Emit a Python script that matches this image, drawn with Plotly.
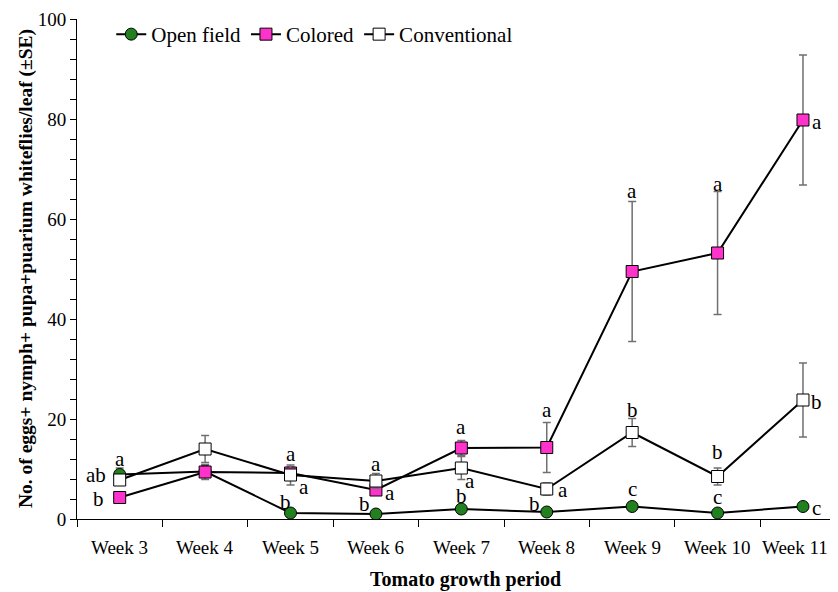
import plotly.graph_objects as go

weeks = ["Week 3", "Week 4", "Week 5", "Week 6", "Week 7", "Week 8", "Week 9", "Week 10", "Week 11"]

open_field = [8.9, 9.5, 1.2, 1.0, 2.0, 1.4, 2.5, 1.2, 2.5]
open_field_se = [1.3, 1.2, 0.3, 0.3, 0.4, 0.3, 0.4, 0.3, 0.4]
colored = [4.3, 9.4, 9.2, 5.8, 14.2, 14.3, 49.5, 53.2, 79.8]
colored_se = [0.8, 1.5, 1.2, 1.0, 1.5, 5.0, 14.0, 12.3, 13.0]
conventional = [7.8, 14.0, 8.8, 7.6, 10.2, 6.0, 17.3, 8.5, 23.8]
conventional_se = [1.0, 2.7, 2.0, 1.5, 2.3, 1.2, 2.8, 1.7, 7.4]

# significance letters: (week, y position, text, x shift px)
letters = [
    ("Week 3", 12.0, "a", 0), ("Week 3", 8.8, "ab", -24), ("Week 3", 4.0, "b", -21),
    ("Week 5", 13.0, "a", 0), ("Week 5", 6.5, "a", 13), ("Week 5", 3.5, "b", -5),
    ("Week 6", 11.0, "a", 0), ("Week 6", 5.2, "a", 14), ("Week 6", 3.0, "b", -11),
    ("Week 7", 18.5, "a", 0), ("Week 7", 7.7, "a", 9), ("Week 7", 4.7, "b", 0),
    ("Week 8", 21.8, "a", 0), ("Week 8", 5.8, "a", 16), ("Week 8", 3.0, "b", -12),
    ("Week 9", 65.7, "a", 0), ("Week 9", 21.8, "b", 0), ("Week 9", 6.0, "c", 0),
    ("Week 10", 67.0, "a", 0), ("Week 10", 13.4, "b", 0), ("Week 10", 4.4, "c", 0),
    ("Week 11", 79.4, "a", 14), ("Week 11", 23.4, "b", 14), ("Week 11", 2.2, "c", 14),
]

FONT = "Liberation Serif"

fig = go.Figure()

def add(name, y, se, color, symbol, size):
    fig.add_trace(go.Scatter(
        x=weeks, y=y, name=name, mode="lines+markers",
        line=dict(color="black", width=2),
        marker=dict(symbol=symbol, size=size, color=color, line=dict(color="black", width=1)),
        error_y=dict(type="data", array=se, visible=True, color="#707070", thickness=1.5, width=4),
    ))

add("Open field", open_field, open_field_se, "#22801e", "circle", 12)
add("Colored", colored, colored_se, "#ff33cc", "square", 12)
add("Conventional", conventional, conventional_se, "white", "square", 12)

for wk, yv, txt, dx in letters:
    fig.add_annotation(x=wk, y=yv, text=txt, showarrow=False, xshift=dx,
                       font=dict(family=FONT, size=21, color="black"))

# category labels placed on the category axis scale
for i, wk in enumerate(weeks):
    fig.add_annotation(
        x=wk, xref="x", y=0, yref="paper", xanchor="center", yanchor="middle",
        yshift=-28, xshift=(-8 if i == len(weeks) - 1 else 0), showarrow=False, text=wk,
        font=dict(family=FONT, size=19, color="black"),
    )

# y-axis title as a rotated annotation
fig.add_annotation(
    xref="paper", yref="paper", x=0, y=0.5, xanchor="center", yanchor="middle",
    xshift=-51, textangle=-90, showarrow=False,
    text="<b>No. of eggs+ nymph+ pupa+puarium whiteflies/leaf (±SE)</b>",
    font=dict(family=FONT, size=19.5, color="black"),
)

# x-axis title
fig.add_annotation(
    xref="paper", yref="paper", x=0.51, y=0, xanchor="center", yanchor="middle",
    yshift=-60, showarrow=False,
    text="<b>Tomato growth period</b>",
    font=dict(family=FONT, size=20, color="black"),
)

fig.update_layout(
    width=830, height=584,
    margin=dict(l=69, r=0, t=11, b=73),
    plot_bgcolor="white", paper_bgcolor="white",
    font=dict(family=FONT, size=19, color="black"),
    showlegend=True,
    legend=dict(orientation="h", x=0.045, y=1.01, xanchor="left", yanchor="top",
                font=dict(family=FONT, size=21), bgcolor="rgba(0,0,0,0)",
                itemwidth=30, tracegroupgap=0),
    xaxis=dict(
        type="category", range=[-0.5, 8.41],
        showticklabels=False,
        showline=True, linecolor="black", linewidth=1,
        ticks="outside", tickson="boundaries", ticklen=7, tickcolor="black",
        showgrid=False, zeroline=False,
    ),
    yaxis=dict(
        range=[0, 100], dtick=20, tick0=0,
        showline=True, linecolor="black", linewidth=1,
        ticks="outside", ticklen=6, tickcolor="black",
        minor=dict(dtick=4, ticks="outside", ticklen=6, tickcolor="black"),
        showgrid=False, zeroline=False,
        tickfont=dict(family=FONT, size=19),
    ),
)

fig.write_html("out.html")
